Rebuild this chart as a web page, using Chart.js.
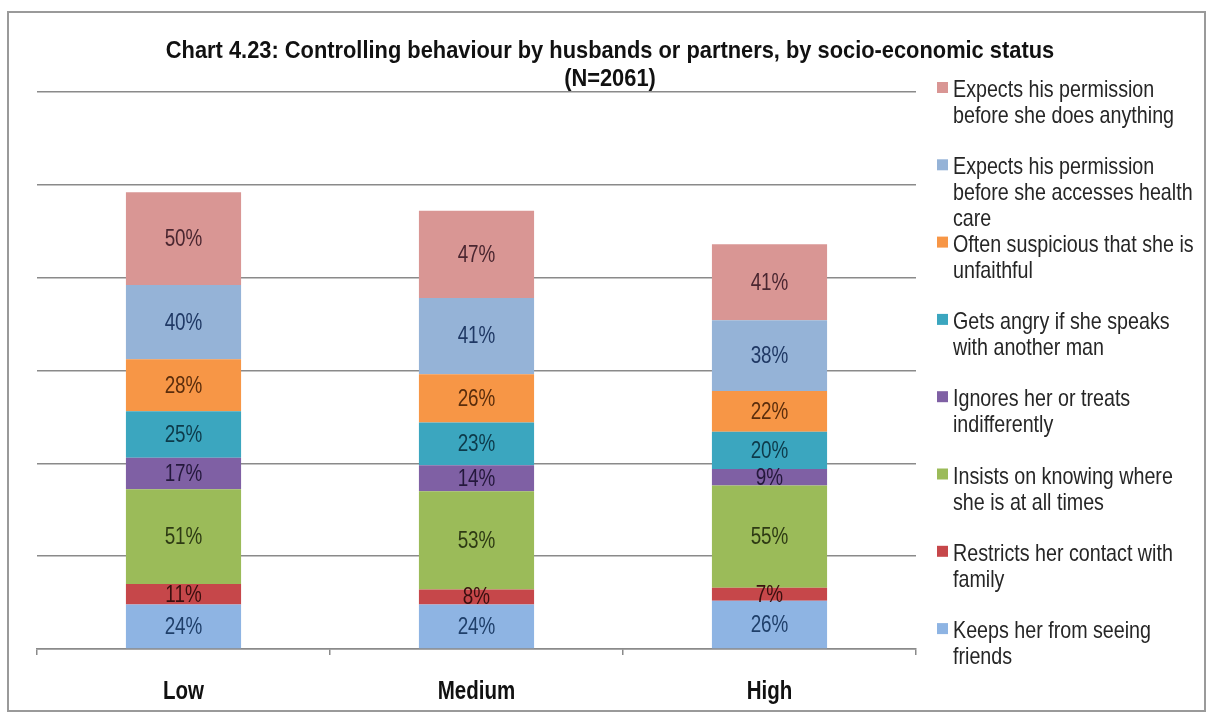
<!DOCTYPE html>
<html>
<head>
<meta charset="utf-8">
<title>Controlling behaviour by socio-economic status</title>
<script src="https://cdn.jsdelivr.net/npm/chart.js@4.4.1/dist/chart.umd.min.js"></script>
<style>
  html, body { margin: 0; padding: 0; background: #fff; }
  #wrap { position: relative; width: 1211px; height: 719px; }
</style>
</head>
<body>
<div id="wrap"><canvas id="chart" width="1211" height="719"></canvas></div>
<script>
const categories = ["Low", "Medium", "High"];

// stack order, bottom segment first
const seriesNames = [
  "Keeps her from seeing friends",
  "Restricts her contact with family",
  "Insists on knowing where she is at all times",
  "Ignores her or treats indifferently",
  "Gets angry if she speaks with another man",
  "Often suspicious that she is unfaithful",
  "Expects his permission before she accesses health care",
  "Expects his permission before she does anything",
];
const friends = [24, 24, 26];
const family = [11, 8, 7];
const knowing = [51, 53, 55];
const ignores = [17, 14, 9];
const angry = [25, 23, 20];
const suspicious = [28, 26, 22];
const healthCare = [40, 41, 38];
const anything = [50, 47, 41];

const yMax = 300;
const yStep = 50;

const fills = ["#8eb4e3", "#c6474a", "#9bbb59", "#7f60a4", "#3ba6bf", "#f79646", "#95b3d7", "#d99694"];
const labelInk = ["#1f3f6a", "#3a0f0f", "#2e3a14", "#24183c", "#0d3a4a", "#5a2d0c", "#1f3864", "#4a2630"];

const SANS = "'Liberation Sans', Arial, sans-serif";
const SQUEEZE = 0.82; // narrow face: regular sans compressed horizontally
const gridColor = "#8a8a8a";

const seriesValues = [friends, family, knowing, ignores, angry, suspicious, healthCare, anything];

const datasets = seriesValues.map((vals, i) => ({
  label: seriesNames[i],
  data: vals,
  backgroundColor: fills[i],
  borderWidth: 0,
  barPercentage: 0.393,
  categoryPercentage: 1,
}));

function narrowText(ctx, text, x, y, squeeze = SQUEEZE) {
  ctx.save();
  ctx.translate(x, y);
  ctx.scale(squeeze, 1);
  ctx.fillText(text, 0, 0);
  ctx.restore();
}

function narrowWidth(ctx, text) {
  return ctx.measureText(text).width * SQUEEZE;
}

function wrapText(ctx, text, maxWidth) {
  const words = text.split(" ");
  const lines = [];
  let line = "";
  words.forEach((w) => {
    const test = line ? line + " " + w : w;
    if (narrowWidth(ctx, test) > maxWidth && line) {
      lines.push(line);
      line = w;
    } else {
      line = test;
    }
  });
  if (line) lines.push(line);
  return lines;
}

// frame around the whole figure
const framePlugin = {
  id: "frame",
  beforeDraw(chart) {
    const ctx = chart.ctx;
    ctx.save();
    ctx.fillStyle = "#fff";
    ctx.fillRect(0, 0, chart.width, chart.height);
    ctx.strokeStyle = "#9a9a9a";
    ctx.lineWidth = 2;
    ctx.strokeRect(8, 12, 1197, 699);
    ctx.restore();
  },
};

// two-line title
const titlePlugin = {
  id: "twoLineTitle",
  afterDraw(chart) {
    const ctx = chart.ctx;
    ctx.save();
    ctx.fillStyle = "#111";
    ctx.font = "bold 24px " + SANS;
    ctx.textAlign = "center";
    ctx.textBaseline = "alphabetic";
    narrowText(ctx, "Chart 4.23: Controlling behaviour by husbands or partners, by socio-economic status", 610, 58, 0.91);
    narrowText(ctx, "(N=2061)", 610, 86, 0.91);
    ctx.restore();
  },
};

// category names under the x axis, placed by the category scale
const categoryLabels = {
  id: "categoryLabels",
  afterDraw(chart) {
    const ctx = chart.ctx;
    const xs = chart.scales.x;
    ctx.save();
    ctx.fillStyle = "#111";
    ctx.font = "bold 25px " + SANS;
    ctx.textAlign = "center";
    ctx.textBaseline = "alphabetic";
    categories.forEach((c, i) => {
      narrowText(ctx, c, xs.getPixelForValue(i), 699);
    });
    ctx.restore();
  },
};

// percentage labels in the middle of each segment
const segmentLabels = {
  id: "segmentLabels",
  afterDatasetsDraw(chart) {
    const ctx = chart.ctx;
    ctx.save();
    ctx.font = "23px " + SANS;
    ctx.textAlign = "center";
    ctx.textBaseline = "middle";
    chart.data.datasets.forEach((ds, i) => {
      const meta = chart.getDatasetMeta(i);
      ctx.fillStyle = labelInk[i];
      meta.data.forEach((bar, j) => {
        const cy = (bar.y + bar.base) / 2;
        narrowText(ctx, ds.data[j] + "%", bar.x, cy + 1);
      });
    });
    ctx.restore();
  },
};

// legend on the right, top series first
const sideLegend = {
  id: "sideLegend",
  afterDraw(chart) {
    const ctx = chart.ctx;
    const x0 = 937;
    const y0 = 97;
    const step = 77.3;
    ctx.save();
    ctx.font = "24px " + SANS;
    ctx.textAlign = "left";
    ctx.textBaseline = "alphabetic";
    const items = chart.data.datasets.map((ds, i) => ({ ds, i })).reverse();
    items.forEach((item, k) => {
      const base = y0 + k * step;
      ctx.fillStyle = fills[item.i];
      ctx.fillRect(x0, base - 15, 11, 11);
      ctx.fillStyle = "#262626";
      const lines = wrapText(ctx, item.ds.label, 250);
      lines.forEach((ln, li) => {
        narrowText(ctx, ln, x0 + 16, base + li * 26);
      });
    });
    ctx.restore();
  },
};

new Chart(document.getElementById("chart"), {
  type: "bar",
  data: {
    labels: categories,
    datasets: datasets,
  },
  options: {
    responsive: false,
    animation: false,
    layout: {
      padding: { top: 92, left: 37, right: 295, bottom: 0 },
    },
    plugins: {
      legend: { display: false },
      title: { display: false },
      tooltip: { enabled: false },
    },
    scales: {
      x: {
        stacked: true,
        grid: {
          offset: true,
          drawOnChartArea: false,
          drawTicks: true,
          tickLength: 6,
          color: gridColor,
          lineWidth: 1.5,
        },
        border: { display: true, color: gridColor, width: 1.5 },
        ticks: { display: false },
        afterFit: (scale) => {
          scale.height = 70;
        },
      },
      y: {
        stacked: true,
        min: 0,
        max: yMax,
        ticks: { display: false, stepSize: yStep },
        grid: { color: gridColor, lineWidth: 1.5, drawTicks: false },
        border: { display: false },
        afterFit: (scale) => {
          scale.width = 0;
        },
      },
    },
  },
  plugins: [framePlugin, titlePlugin, categoryLabels, segmentLabels, sideLegend],
});
</script>
</body>
</html>
